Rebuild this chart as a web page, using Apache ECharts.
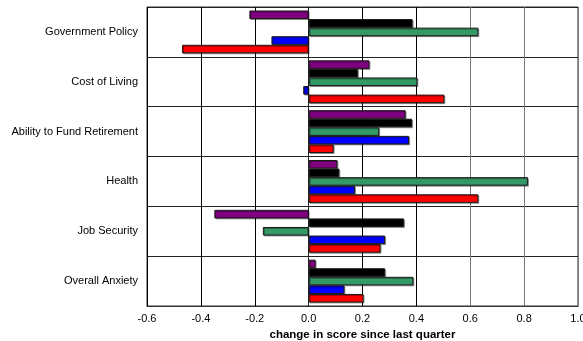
<!DOCTYPE html>
<html>
<head>
<meta charset="utf-8">
<script src="https://cdn.jsdelivr.net/npm/echarts@6/dist/echarts.min.js"></script>
<style>
  html, body { margin: 0; padding: 0; background: #fff; }
  #chart { width: 583px; height: 341px; }
</style>
</head>
<body>
<div id="chart"></div>
<script>
// Categories, listed top to bottom
const categories = [
  'Government Policy',
  'Cost of Living',
  'Ability to Fund Retirement',
  'Health',
  'Job Security',
  'Overall Anxiety'
];

// Change in score since last quarter, one array per series (same order as categories)
const purpleValues = [-0.22, 0.226, 0.36, 0.107, -0.35, 0.026];
const blackValues  = [0.386, 0.183, 0.384, 0.114, 0.354, 0.284];
const greenValues  = [0.63, 0.404, 0.262, 0.814, -0.17, 0.389];
const blueValues   = [-0.138, -0.02, 0.373, 0.172, 0.284, 0.133];
const redValues    = [-0.47, 0.504, 0.093, 0.63, 0.267, 0.204];

const axisMin = -0.6;
const axisMax = 1.0;
const axisStep = 0.2;
const axisTitle = 'change in score since last quarter';

const seriesDefs = [
  { data: purpleValues, color: '#800080' },
  { data: blackValues,  color: '#000000' },
  { data: greenValues,  color: '#339966' },
  { data: blueValues,   color: '#0000ff' },
  { data: redValues,    color: '#ff0000' }
];

const chart = echarts.init(document.getElementById('chart'), null, { renderer: 'canvas' });

const font = 'Liberation Sans, Arial, sans-serif';

chart.setOption({
  animation: false,
  backgroundColor: '#ffffff',
  grid: {
    left: 147, right: 5, top: 7, bottom: 35,
    outerBoundsMode: 'none',
    containLabel: false,
    show: true, borderColor: '#333', borderWidth: 1, backgroundColor: 'transparent'
  },
  xAxis: {
    type: 'value',
    min: axisMin, max: axisMax, interval: axisStep,
    name: axisTitle,
    nameLocation: 'middle',
    nameGap: 21,
    nameTextStyle: { fontFamily: font, fontSize: 11.5, fontWeight: 'bold', color: '#000', verticalAlign: 'top' },
    axisLine: { show: true, lineStyle: { color: '#333', width: 1 } },
    axisTick: { show: false },
    axisLabel: {
      fontFamily: font, fontSize: 11, color: '#000', margin: 7,
      showMinLabel: true, showMaxLabel: true,
      formatter: v => v.toFixed(1)
    },
    splitLine: {
      show: true,
      lineStyle: { color: ['#000', '#000', '#000', '#000', '#000', '#000', '#777', '#777', '#777'], width: 1 }
    }
  },
  yAxis: {
    type: 'category',
    data: categories,
    inverse: true,
    axisLine: { show: true, lineStyle: { color: '#222', width: 1 } },
    axisTick: { show: true, inside: false, length: 3, lineStyle: { color: '#222' } },
    axisLabel: { fontFamily: font, fontSize: 11, color: '#000', margin: 9 },
    splitLine: { show: true, interval: 0, lineStyle: { color: '#222', width: 1 } }
  },
  series: seriesDefs.map(s => ({
    type: 'bar',
    data: s.data,
    barGap: '0%',
    barCategoryGap: '14%',
    itemStyle: {
      color: s.color,
      borderColor: '#1a1a1a',
      borderWidth: 1,
      shadowColor: 'rgba(0,0,0,0.35)',
      shadowOffsetX: 1,
      shadowOffsetY: 1,
      shadowBlur: 0
    }
  }))
});
</script>
</body>
</html>
